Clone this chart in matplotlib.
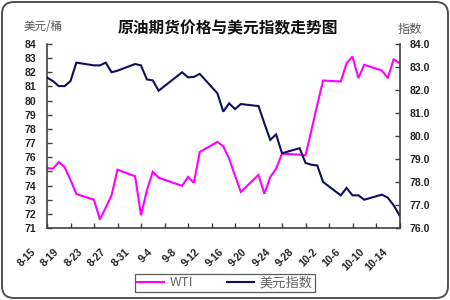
import matplotlib
matplotlib.use("Agg")
import matplotlib.pyplot as plt
from matplotlib.patches import FancyBboxPatch
from matplotlib.transforms import IdentityTransform, ScaledTranslation
from matplotlib.font_manager import FontProperties

# ---- data (day offset from 8-15) ----
days = [0, 1, 2, 3, 4, 5, 8, 9, 10, 11, 12, 15, 16, 17, 18, 19, 23, 24, 25, 26,
        29, 30, 31, 32, 33, 36, 37, 38, 39, 40, 43, 44, 45, 46, 47, 50, 51, 52, 53, 54,
        57, 58, 59, 60]
wti = [75.24, 75.19, 75.66, 75.30, 74.40, 73.40, 73.00, 71.60, 72.45, 73.33, 75.12,
       74.65, 71.90, 73.66, 74.97, 74.55, 73.98, 74.61, 74.20, 76.37,
       77.08, 76.78, 75.90, 74.70, 73.55, 74.75, 73.42, 74.60, 75.20, 76.25,
       76.18, 76.13, 77.90, 79.70, 81.42, 81.35, 82.65, 83.12, 81.59, 82.53,
       82.13, 81.59, 82.91, 82.65]
usdx = [82.54, 82.39, 82.17, 82.17, 82.39, 83.19, 83.07, 83.07, 83.19, 82.77, 82.84,
        83.13, 83.07, 82.46, 82.42, 81.97, 82.77, 82.55, 82.57, 82.70,
        81.86, 81.06, 81.42, 81.17, 81.39, 81.30, 80.55, 79.83, 80.07, 79.25,
        79.47, 78.83, 78.75, 78.72, 78.00, 77.42, 77.74, 77.42, 77.42, 77.23,
        77.45, 77.32, 76.99, 76.55]
tick_days = list(range(0, 61, 4))
tick_labels = ["8-15", "8-19", "8-23", "8-27", "8-31", "9-4", "9-8", "9-12", "9-16",
               "9-20", "9-24", "9-28", "10-2", "10-6", "10-10", "10-14"]
left_ticks = list(range(71, 85))
right_ticks = list(range(76, 85))

title = "原油期货价格与美元指数走势图"
left_unit = "美元/桶"
right_unit = "指数"
series_names = ["WTI", "美元指数"]

# ---- style ----
cjk = ["Noto Sans CJK SC", "DejaVu Sans"]
num = ["Liberation Sans", "DejaVu Sans"]
spine_c = "#404040"
txt_c = "#222222"
c_wti = "#ff00ff"
c_usd = "#10105a"

fig = plt.figure(figsize=(4.5, 3.0), dpi=100)
fig.patch.set_facecolor("white")
ax = fig.add_axes([47 / 450, 1 - 228 / 300, (399.5 - 47) / 450, (228 - 44) / 300])
ax2 = ax.twinx()

l1, = ax.plot(days, wti, color=c_wti, lw=1.5, solid_joinstyle="miter")
l2, = ax2.plot(days, usdx, color=c_usd, lw=1.5, solid_joinstyle="miter")

ax.set_xlim(0, 60)
ax.set_ylim(71, 84)
ax2.set_ylim(76, 84)
ax.set_xticks(tick_days)
ax.set_xticklabels(tick_labels)
ax.set_yticks(left_ticks)
ax.set_yticklabels([str(v) for v in left_ticks])
ax2.set_yticks(right_ticks)
ax2.set_yticklabels([f"{v:.1f}" for v in right_ticks])

for a in (ax, ax2):
    a.set_facecolor("none")
    a.spines["top"].set_visible(False)
    for s in ("left", "right", "bottom"):
        a.spines[s].set_color(spine_c)
        a.spines[s].set_linewidth(1.2)
ax.spines["right"].set_visible(False)
ax2.spines["left"].set_visible(False)
ax2.spines["bottom"].set_visible(False)

ax.tick_params(axis="y", direction="in", length=3.5, width=1, color=spine_c, pad=8)
ax2.tick_params(axis="y", direction="in", length=3.5, width=1, color=spine_c, pad=7)
ax.tick_params(axis="x", direction="in", length=3.5, width=1, color=spine_c, pad=13.5)

fp_tick = FontProperties(family=num, weight="bold", size=7.5)
for lab in ax.get_yticklabels() + ax2.get_yticklabels():
    lab.set_fontproperties(fp_tick)
    lab.set_color(txt_c)
off = ScaledTranslation(-7 / 72, 0, fig.dpi_scale_trans)
for lab in ax.get_xticklabels():
    lab.set_fontproperties(fp_tick)
    lab.set_color(txt_c)
    lab.set_rotation(45)
    lab.set_ha("right")
    lab.set_va("top")
    lab.set_transform(lab.get_transform() + off)

fig.text(227.5 / 450, 1 - 28.5 / 300, title, ha="center", va="center",
         family=cjk, weight="bold", fontsize=11.3, color="#111111")
fig.text(24 / 450, 1 - 26.5 / 300, left_unit, ha="left", va="center",
         family=cjk, fontsize=8.3, color="#555555")
fig.text(398 / 450, 1 - 29.5 / 300, right_unit, ha="left", va="center",
         family=cjk, fontsize=8.8, color="#555555")

leg = fig.legend([l1, l2], series_names, loc="center",
                 bbox_to_anchor=(225 / 450, 1 - 283 / 300), ncol=2,
                 prop=FontProperties(family=cjk, size=9.5),
                 frameon=True, fancybox=False, edgecolor="#333333",
                 borderpad=0.2, handlelength=2.0, handletextpad=0.45,
                 columnspacing=2.6, borderaxespad=0)
leg.get_frame().set_linewidth(0.9)
for t in leg.get_texts():
    t.set_color("#666666")

frame = FancyBboxPatch((2, 2), 446, 296, boxstyle="round,pad=0,rounding_size=12",
                       transform=IdentityTransform(), facecolor="none",
                       edgecolor="#505050", linewidth=1.4)
fig.patches.append(frame)

fig.savefig("out.png", dpi=100)
